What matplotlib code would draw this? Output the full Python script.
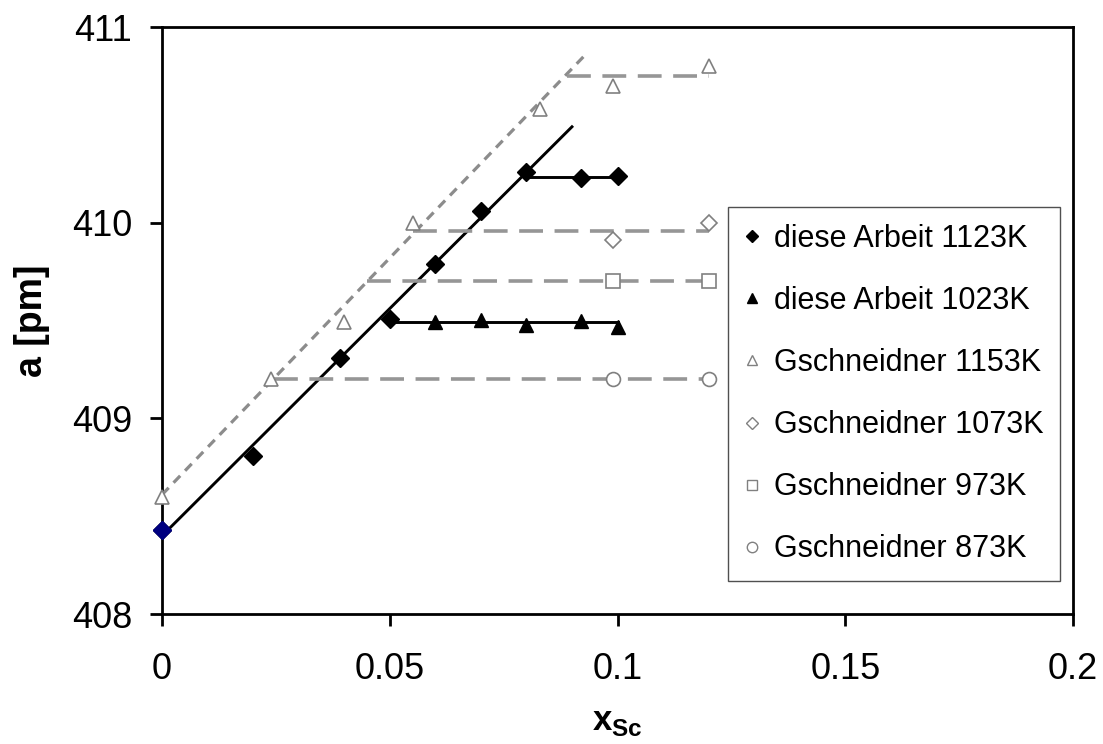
import numpy as np
from matplotlib import pyplot as plt
from matplotlib.lines import Line2D

plt.rcParams["font.family"] = ["Liberation Sans", "DejaVu Sans"]
plt.rcParams["mathtext.fontset"] = "custom"
plt.rcParams["mathtext.rm"] = "Liberation Sans"
plt.rcParams["mathtext.bf"] = "Liberation Sans:bold"

# measured points (x_Sc, lattice parameter a in pm)
x_1123 = [0.0, 0.02, 0.039, 0.05, 0.06, 0.07, 0.08, 0.092, 0.1]
a_1123 = [408.43, 408.81, 409.31, 409.51, 409.79, 410.06, 410.26, 410.23, 410.24]
x_1023 = [0.06, 0.07, 0.08, 0.092, 0.1]
a_1023 = [409.49, 409.505, 409.475, 409.50, 409.465]
x_g1153 = [0.0, 0.024, 0.04, 0.055, 0.083, 0.099, 0.12]
a_g1153 = [408.60, 409.20, 409.49, 410.00, 410.58, 410.70, 410.80]
x_g1073 = [0.099, 0.12]
a_g1073 = [409.91, 410.00]
x_g973 = [0.099, 0.12]
a_g973 = [409.70, 409.70]
x_g873 = [0.099, 0.12]
a_g873 = [409.20, 409.20]

# trend lines
fit_1123_x = [0.0, 0.09]
fit_1123_a = [408.40, 410.49]
fit_g1153_x = [0.0, 0.0926]
fit_g1153_a = [408.61, 410.85]
plateau_1123_x = [0.08, 0.1]
plateau_1123_a = [410.235, 410.235]
plateau_1023_x = [0.05, 0.1]
plateau_1023_a = [409.49, 409.49]
plateau_g_x = [[0.089, 0.12], [0.055, 0.12], [0.045, 0.12], [0.0245, 0.12]]
plateau_g_a = [410.75, 409.955, 409.70, 409.20]

labels = ["diese Arbeit 1123K", "diese Arbeit 1023K", "Gschneidner 1153K",
          "Gschneidner 1073K", "Gschneidner 973K", "Gschneidner 873K"]

GRAY = "#808080"
DASH_GRAY = "#969696"

fig = plt.figure(figsize=(11.03, 7.44), dpi=100)
ax = fig.add_axes([0.1469, 0.1747, 0.8259, 0.789])

# lines
ax.plot(fit_1123_x, fit_1123_a, color="black", lw=2.1, zorder=2)
ax.plot(plateau_1123_x, plateau_1123_a, color="black", lw=2.1, zorder=2)
ax.plot(plateau_1023_x, plateau_1023_a, color="black", lw=2.1, zorder=2)
ax.plot(fit_g1153_x, fit_g1153_a, color="#8c8c8c", lw=2.3, dashes=(3.0, 2.2), zorder=3)
for xs, a in zip(plateau_g_x, plateau_g_a):
    ax.plot(xs, [a, a], color=DASH_GRAY, lw=2.6, dashes=(6.6, 3.2), zorder=3)

# markers (not clipped, so the x = 0 points sit on top of the axis)
ax.plot(x_1123, a_1123, ls="none", marker="D", ms=9, color="black", zorder=5,
        clip_on=False)
ax.plot(x_1123[:1], a_1123[:1], ls="none", marker="D", ms=9, color="#000080",
        zorder=6, clip_on=False)
ax.plot(x_1023, a_1023, ls="none", marker="^", ms=10.5, color="black", zorder=5,
        clip_on=False)
open_kw = dict(ls="none", ms=10, mfc="white", mec=GRAY, mew=1.2, zorder=5, clip_on=False)
ax.plot(x_g1153, a_g1153, marker="^", **open_kw)
ax.plot(x_g1073, a_g1073, marker="D", **{**open_kw, "ms": 8})
ax.plot(x_g973, a_g973, marker="s", **open_kw)
ax.plot(x_g873, a_g873, marker="o", **open_kw)

ax.set_xlim(0, 0.2)
ax.set_ylim(408, 411)
ax.set_xticks([0, 0.05, 0.1, 0.15, 0.2], ["0", "0.05", "0.1", "0.15", "0.2"])
ax.set_yticks([408, 409, 410, 411])
ax.tick_params(direction="out", length=8.5, width=2, labelsize=26, color="black")
ax.tick_params(axis="y", pad=13)
ax.tick_params(axis="x", pad=19)
for s in ax.spines.values():
    s.set_linewidth(2)

ax.set_ylabel("a [pm]", fontsize=27, fontweight="bold")
ax.yaxis.set_label_coords(-0.123, 0.5)
ax.set_xlabel(r"$\mathbf{x}_{\mathbf{Sc}}$", fontsize=25)
ax.xaxis.set_label_coords(0.5, -0.155)

handles = [
    Line2D([], [], ls="none", marker="D", ms=6.5, color="black"),
    Line2D([], [], ls="none", marker="^", ms=7.5, color="black"),
    Line2D([], [], ls="none", marker="^", ms=7.5, mfc="white", mec=GRAY, mew=1),
    Line2D([], [], ls="none", marker="D", ms=6, mfc="white", mec=GRAY, mew=1),
    Line2D([], [], ls="none", marker="s", ms=7.5, mfc="white", mec=GRAY, mew=1),
    Line2D([], [], ls="none", marker="o", ms=7.5, mfc="white", mec=GRAY, mew=1),
]
leg = ax.legend(handles, labels, loc="upper left", bbox_to_anchor=(0.621, 0.693),
                fontsize=22, frameon=True, fancybox=False, framealpha=1,
                edgecolor="#505050", handlelength=0.5, handletextpad=0.45,
                labelspacing=1.05, borderpad=0.55, borderaxespad=0)
leg.get_frame().set_linewidth(1.0)
leg.set_zorder(10)

fig.savefig("out.png", dpi=100, facecolor="white")
